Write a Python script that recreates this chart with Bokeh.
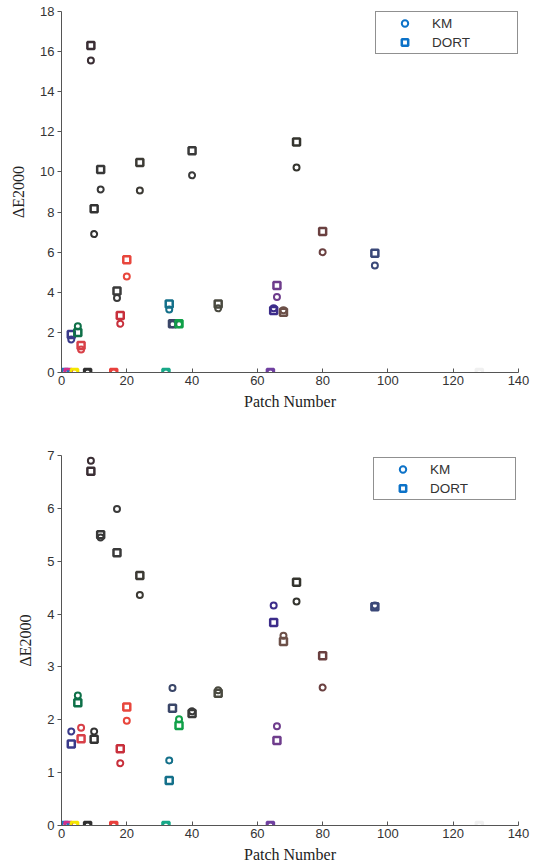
from bokeh.plotting import figure
from bokeh.layouts import column
from bokeh.models import Range1d, FixedTicker, Legend, LegendItem, ColumnDataSource
from bokeh.embed import file_html
from bokeh.resources import INLINE

# Patch numbers (ascending, so later patches overlay earlier ones)
patches = [1, 2, 3, 4, 5, 6, 8, 9, 10, 12, 16, 17, 18, 20, 24, 32, 33, 34, 36,
           40, 48, 64, 65, 66, 68, 72, 80, 96, 128]

# Colour of each patch
patch_colors = ["#1a78c8", "#d0308c", "#3a3a8a", "#f5e600", "#0e7048", "#d84048",
                "#303030", "#3a2e34", "#333333", "#383838", "#e8403c", "#3a3a3a",
                "#c8303c", "#e8463c", "#3c3a34", "#18a888", "#14708a", "#3a4668",
                "#10a048", "#3a3a3a", "#4a4a40", "#7040a0", "#3c2c8a", "#6e3c8c",
                "#6c5048", "#34342e", "#6a4040", "#3a4878", "#f0f0f0"]

# Upper panel: colour difference per patch
km_top = [0, 0, 1.65, 0, 2.3, 1.15, 0, 15.56, 6.9, 9.13, 0, 3.72, 2.43, 4.79, 9.08,
          0, 3.14, 2.4, 2.4, 9.83, 3.2, 0, 3.2, 3.76, 3.1, 10.22, 6.0, 5.34, 0]
dort_top = [0, 0, 1.9, 0, 2.0, 1.35, 0, 16.3, 8.16, 10.12, 0, 4.06, 2.84, 5.62, 10.47,
            0, 3.42, 2.43, 2.43, 11.06, 3.42, 0, 3.09, 4.34, 3.0, 11.49, 7.03, 5.95, 0]

# Lower panel: colour difference per patch
km_bot = [0, 0, 1.78, 0, 2.46, 1.85, 0, 6.90, 1.78, 5.45, 0, 5.99, 1.18, 1.98, 4.36,
          0, 1.23, 2.6, 2.01, 2.16, 2.56, 0, 4.16, 1.88, 3.59, 4.24, 2.61, 4.16, 0]
dort_bot = [0, 0, 1.54, 0, 2.32, 1.64, 0, 6.70, 1.63, 5.5, 0, 5.16, 1.45, 2.24, 4.73,
            0, 0.85, 2.22, 1.89, 2.12, 2.50, 0, 3.84, 1.61, 3.48, 4.60, 3.21, 4.14, 0]

x_ticks = [0, 20, 40, 60, 80, 100, 120, 140]
legend_color = "#0c72c8"
axis_color = "#555555"
text_color = "#333333"


def make_panel(km, dort, ymax, yticks, height, borders, legend_margin):
    left, right, top, bottom = borders
    p = figure(width=535, height=height, output_backend="svg", toolbar_location=None,
               x_range=Range1d(0, 140), y_range=Range1d(0, ymax),
               min_border_left=left, min_border_right=right,
               min_border_top=top, min_border_bottom=bottom)
    p.outline_line_color = None
    p.xgrid.visible = False
    p.ygrid.visible = False
    p.background_fill_color = "white"

    for ax in (p.xaxis[0], p.yaxis[0]):
        ax.axis_line_color = axis_color
        ax.major_tick_line_color = axis_color
        ax.minor_tick_line_color = None
        ax.major_label_text_font = "Liberation Sans"
        ax.major_label_text_font_size = "13px"
        ax.major_label_text_color = text_color
        ax.axis_label_text_font = "Liberation Serif"
        ax.axis_label_text_font_size = "16px"
        ax.axis_label_text_font_style = "normal"
        ax.axis_label_text_color = "#222222"

    p.xaxis.ticker = FixedTicker(ticks=x_ticks)
    p.xaxis.major_tick_in = 4
    p.xaxis.major_tick_out = 0
    p.xaxis.major_label_standoff = 3
    p.xaxis.axis_label = "Patch Number"
    p.xaxis.axis_label_standoff = 5

    p.yaxis.ticker = FixedTicker(ticks=yticks)
    p.yaxis.major_tick_in = 0
    p.yaxis.major_tick_out = 4
    p.yaxis.major_label_standoff = 3
    p.yaxis.axis_label = "ΔE2000"
    p.yaxis.axis_label_standoff = 10

    src = ColumnDataSource(dict(x=patches, km=km, dort=dort, c=patch_colors))
    p.scatter("x", "km", source=src, marker="circle", size=6, line_width=2,
              line_color="c", fill_alpha=0)
    p.scatter("x", "dort", source=src, marker="square", size=7, line_width=2.5,
              line_color="c", fill_alpha=0)

    # Legend entries drawn with the legend colour only
    nan = float("nan")
    r_km = p.scatter([nan], [nan], marker="circle", size=6, line_width=2,
                     line_color=legend_color, fill_alpha=0)
    r_dort = p.scatter([nan], [nan], marker="square", size=7, line_width=2.5,
                       line_color=legend_color, fill_alpha=0)
    leg = Legend(items=[LegendItem(label="KM", renderers=[r_km]),
                        LegendItem(label="DORT", renderers=[r_dort])],
                 location="top_right")
    leg.margin = legend_margin
    leg.padding = 3
    leg.spacing = 3
    leg.glyph_width = 51
    leg.glyph_height = 16
    leg.label_height = 16
    leg.label_standoff = 2
    leg.label_width = 82
    leg.label_text_font = "Liberation Sans"
    leg.label_text_font_size = "13.5px"
    leg.label_text_color = text_color
    leg.border_line_color = "#222222"
    leg.border_line_width = 1
    leg.background_fill_color = "white"
    leg.background_fill_alpha = 1
    p.add_layout(leg)
    return p


p_top = make_panel(km_top, dort_top, 18, list(range(0, 19, 2)), 432,
                   (61, 17, 11, 60), 0)
p_bot = make_panel(km_bot, dort_bot, 7, list(range(0, 8)), 433,
                   (55, 12, 23, 40), 2)

layout = column(p_top, p_bot, spacing=0)
open("out.html", "w").write(file_html(layout, INLINE))
